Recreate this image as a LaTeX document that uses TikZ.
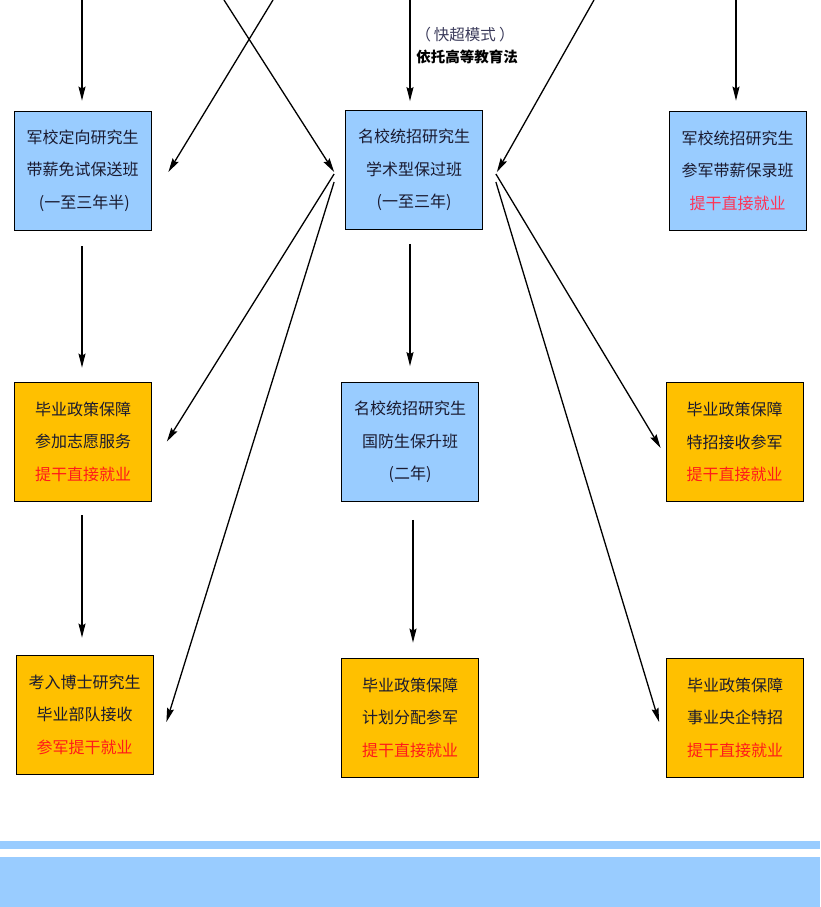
\documentclass[tikz,border=0pt]{standalone}
\usepackage{fontspec}
\newfontfamily\cjk{Noto Sans CJK SC}
\usepackage{tikz}
\usetikzlibrary{arrows,arrows.meta,positioning}
\definecolor{skyblue}{HTML}{99CCFF}
\definecolor{gold}{HTML}{FFC000}
\definecolor{ink}{HTML}{1A1A30}
\definecolor{redtext}{HTML}{FF1A1A}
\definecolor{pinkred}{HTML}{FF3355}
\definecolor{modecol}{HTML}{3A3A5A}
\begin{document}
\begin{tikzpicture}[x=1pt,y=-1pt,
  >={Stealth[length=14pt,width=7pt,inset=2pt]},
  every path/.style={line width=1.3pt},
  box/.style={draw=black,line width=0.8pt,minimum width=137pt,minimum height=119pt,
    align=center,text=ink,font=\cjk\fontsize{16}{32.5}\selectfont,inner sep=0pt},
  bluebox/.style={box,fill=skyblue},
  goldbox/.style={box,fill=gold}]
\useasboundingbox (0,0) rectangle (820,907);
\node[bluebox] (A) at (82.5,170.5) {军校定向研究生\\带薪免试保送班\\\ (一至三年半)};
\node[bluebox] (B) at (414,170) {名校统招研究生\\学术型保过班\\(一至三年)};
\node[bluebox] (C) at (737.5,170.5) {军校统招研究生\\参军带薪保录班\\\textcolor{pinkred}{提干直接就业}};
\node[goldbox] (D) at (83,441.5) {毕业政策保障\\参加志愿服务\\\textcolor{redtext}{提干直接就业}};
\node[bluebox] (E) at (410,442) {名校统招研究生\\国防生保升班\\(二年)};
\node[goldbox] (F) at (734.5,442) {毕业政策保障\\特招接收参军\\\textcolor{redtext}{提干直接就业}};
\node[goldbox] (G) at (84.5,714.5) {考入博士研究生\\毕业部队接收\\\textcolor{redtext}{参军提干就业}};
\node[goldbox] (H) at (410,717.5) {毕业政策保障\\计划分配参军\\\textcolor{redtext}{提干直接就业}};
\node[goldbox] (I) at (735,717.5) {毕业政策保障\\事业央企特招\\\textcolor{redtext}{提干直接就业}};
\node[text=modecol,font=\cjk\fontsize{15.5}{15.5}\selectfont] (mode) at (465,35) {（\hspace{3pt}快超模式\hspace{3pt}）};
\node[font=\cjk\bfseries\fontsize{14.5}{14.5}\selectfont] (law) at (467,57) {依托高等教育法};
\coordinate (topA) at (82,0);
\coordinate (topX) at (224,0);
\coordinate (topY) at (273,0);
\coordinate (topB) at (410,0);
\coordinate (topZ) at (594,0);
\coordinate (topC) at (736,0);
\draw[->,shorten >=10pt] (topA) -- (topA |- A.north);
\draw[->] (topX) -- ([xshift=-11pt,yshift=-2pt]B.west);
\draw[->] (topY) -- ([xshift=17pt,yshift=-1.5pt]A.east);
\draw[->,shorten >=9pt] (topB) -- (topB |- B.north);
\draw[->] (topZ) -- ([xshift=14pt,yshift=-2pt]B.east);
\draw[->,shorten >=10pt] (topC) -- (topC |- C.north);
\draw[->,shorten <=16pt,shorten >=14pt] (A.south -| topA) -- (D.north -| topA);
\draw[->,shorten <=14pt,shorten >=16pt] (E.north |- B.south) -- (E.north);
\draw[->,shorten <=14pt,shorten >=17pt] (D.south -| topA) -- (G.north -| topA);
\draw[->,shorten <=18pt,shorten >=15pt] ([xshift=3pt]E.south) -- ([xshift=3pt]H.north);
\draw[->] ([xshift=-11pt,yshift=-4pt]B.west) -- ([xshift=15pt]D.east);
\draw[->] ([xshift=-11pt,yshift=-12pt]B.west) -- ([xshift=13pt,yshift=-7.5pt]G.east);
\draw[->] ([xshift=13pt,yshift=-4pt]B.east) -- ([xshift=-5pt,yshift=-6pt]F.west);
\draw[->] ([xshift=13pt,yshift=-12pt]B.east) -- ([xshift=-7pt,yshift=-4.5pt]I.west);
\fill[skyblue] (0,841) rectangle (820,849);
\fill[skyblue] (0,857) rectangle (820,907);
\end{tikzpicture}
\end{document}
